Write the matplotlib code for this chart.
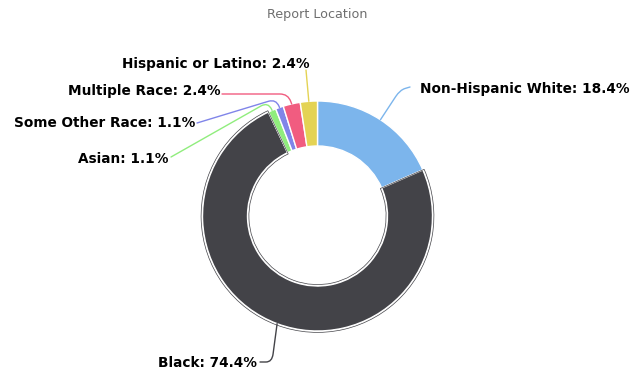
import numpy as np
import matplotlib
matplotlib.use("Agg")
import matplotlib.pyplot as plt
from matplotlib.path import Path
from matplotlib.patches import PathPatch, Wedge

# Data
categories = ["Non-Hispanic White", "Black", "Asian", "Some Other Race",
              "Multiple Race", "Hispanic or Latino"]
shares = [18.4, 74.4, 1.1, 1.1, 2.4, 2.4]
colors = ["#7cb5ec", "#434348", "#90ed7d", "#8085e9", "#f15c80", "#e4d354"]
title = "Report Location"

# Canvas in pixel units (y measured downward from the top in the layout below)
W, H = 639, 377
fig = plt.figure(figsize=(W / 100, H / 100), dpi=100)
ax = fig.add_axes([0, 0, 1, 1])


def py(y):
    return H - y


cx, cy = 317.5, py(216)
R, RING = 115, 45

ax.pie(shares, colors=colors, startangle=90, counterclock=False,
       radius=R, center=(cx, cy),
       wedgeprops=dict(width=RING, edgecolor="white", linewidth=1.0))

frac = np.array(shares) / np.sum(shares)
ends = np.cumsum(frac)
starts = ends - frac
mid_deg = 90 - 360 * (starts + frac / 2)

# thin outline around the large slice
bi = categories.index("Black")
ax.add_patch(Wedge((cx, cy), R + 1.4, 90 - 360 * ends[bi], 90 - 360 * starts[bi],
                   width=RING + 2.8, fill=False, ec="#434348", lw=0.5))

# label layout: text position (x, baseline y), alignment, bend and anchor of connector
layout = {
    "Non-Hispanic White": dict(tx=420, ty=93, ha="left", bend=(400, 90), anchor=(410, 87)),
    "Hispanic or Latino": dict(tx=310, ty=68, ha="right", bend=None, anchor=(306, 70)),
    "Multiple Race": dict(tx=221, ty=95, ha="right", bend=(288, 94), anchor=(222, 94)),
    "Some Other Race": dict(tx=195, ty=127, ha="right", bend=(276, 99), anchor=(197, 123)),
    "Asian": dict(tx=168, ty=163, ha="right", bend=(268, 102), anchor=(171, 157)),
    "Black": dict(tx=257, ty=367, ha="right", bend=(272, 362), anchor=(260, 362)),
}


def rounded_path(pts, r):
    verts = [pts[0]]
    codes = [Path.MOVETO]
    if len(pts) == 3:
        a, c, e = (np.array(p, float) for p in pts)
        u1 = (a - c) / np.linalg.norm(a - c)
        u2 = (e - c) / np.linalg.norm(e - c)
        r1 = min(r, 0.9 * np.linalg.norm(a - c))
        r2 = min(r, 0.5 * np.linalg.norm(e - c))
        verts += [tuple(c + u1 * r1), tuple(c), tuple(c + u2 * r2), tuple(e)]
        codes += [Path.LINETO, Path.CURVE3, Path.CURVE3, Path.LINETO]
    else:
        verts.append(pts[-1])
        codes.append(Path.LINETO)
    return Path(verts, codes)


for i, name in enumerate(categories):
    lay = layout[name]
    ang = np.deg2rad(mid_deg[i])
    edge = (cx + R * np.cos(ang), cy + R * np.sin(ang))
    anchor = (lay["anchor"][0], py(lay["anchor"][1]))
    if lay["bend"] is not None:
        bend = (lay["bend"][0], py(lay["bend"][1]))
        pts = [edge, bend, anchor]
    else:
        pts = [edge, anchor]
    ax.add_patch(PathPatch(rounded_path(pts, 8), fill=False, ec=colors[i], lw=1.0,
                           capstyle="round"))
    ax.text(lay["tx"], py(lay["ty"]), f"{name}: {shares[i]:.1f}%",
            ha=lay["ha"], va="baseline", fontsize=9.8, fontweight="bold",
            color="#000000", family="DejaVu Sans")

ax.text(317, py(18.3), title, ha="center", va="baseline", fontsize=9.2,
        color="#6e6e6e", family="DejaVu Sans")

ax.set_xlim(0, W)
ax.set_ylim(0, H)
ax.set_aspect("auto")
ax.axis("off")
fig.savefig("out.png", dpi=100, facecolor="white")
